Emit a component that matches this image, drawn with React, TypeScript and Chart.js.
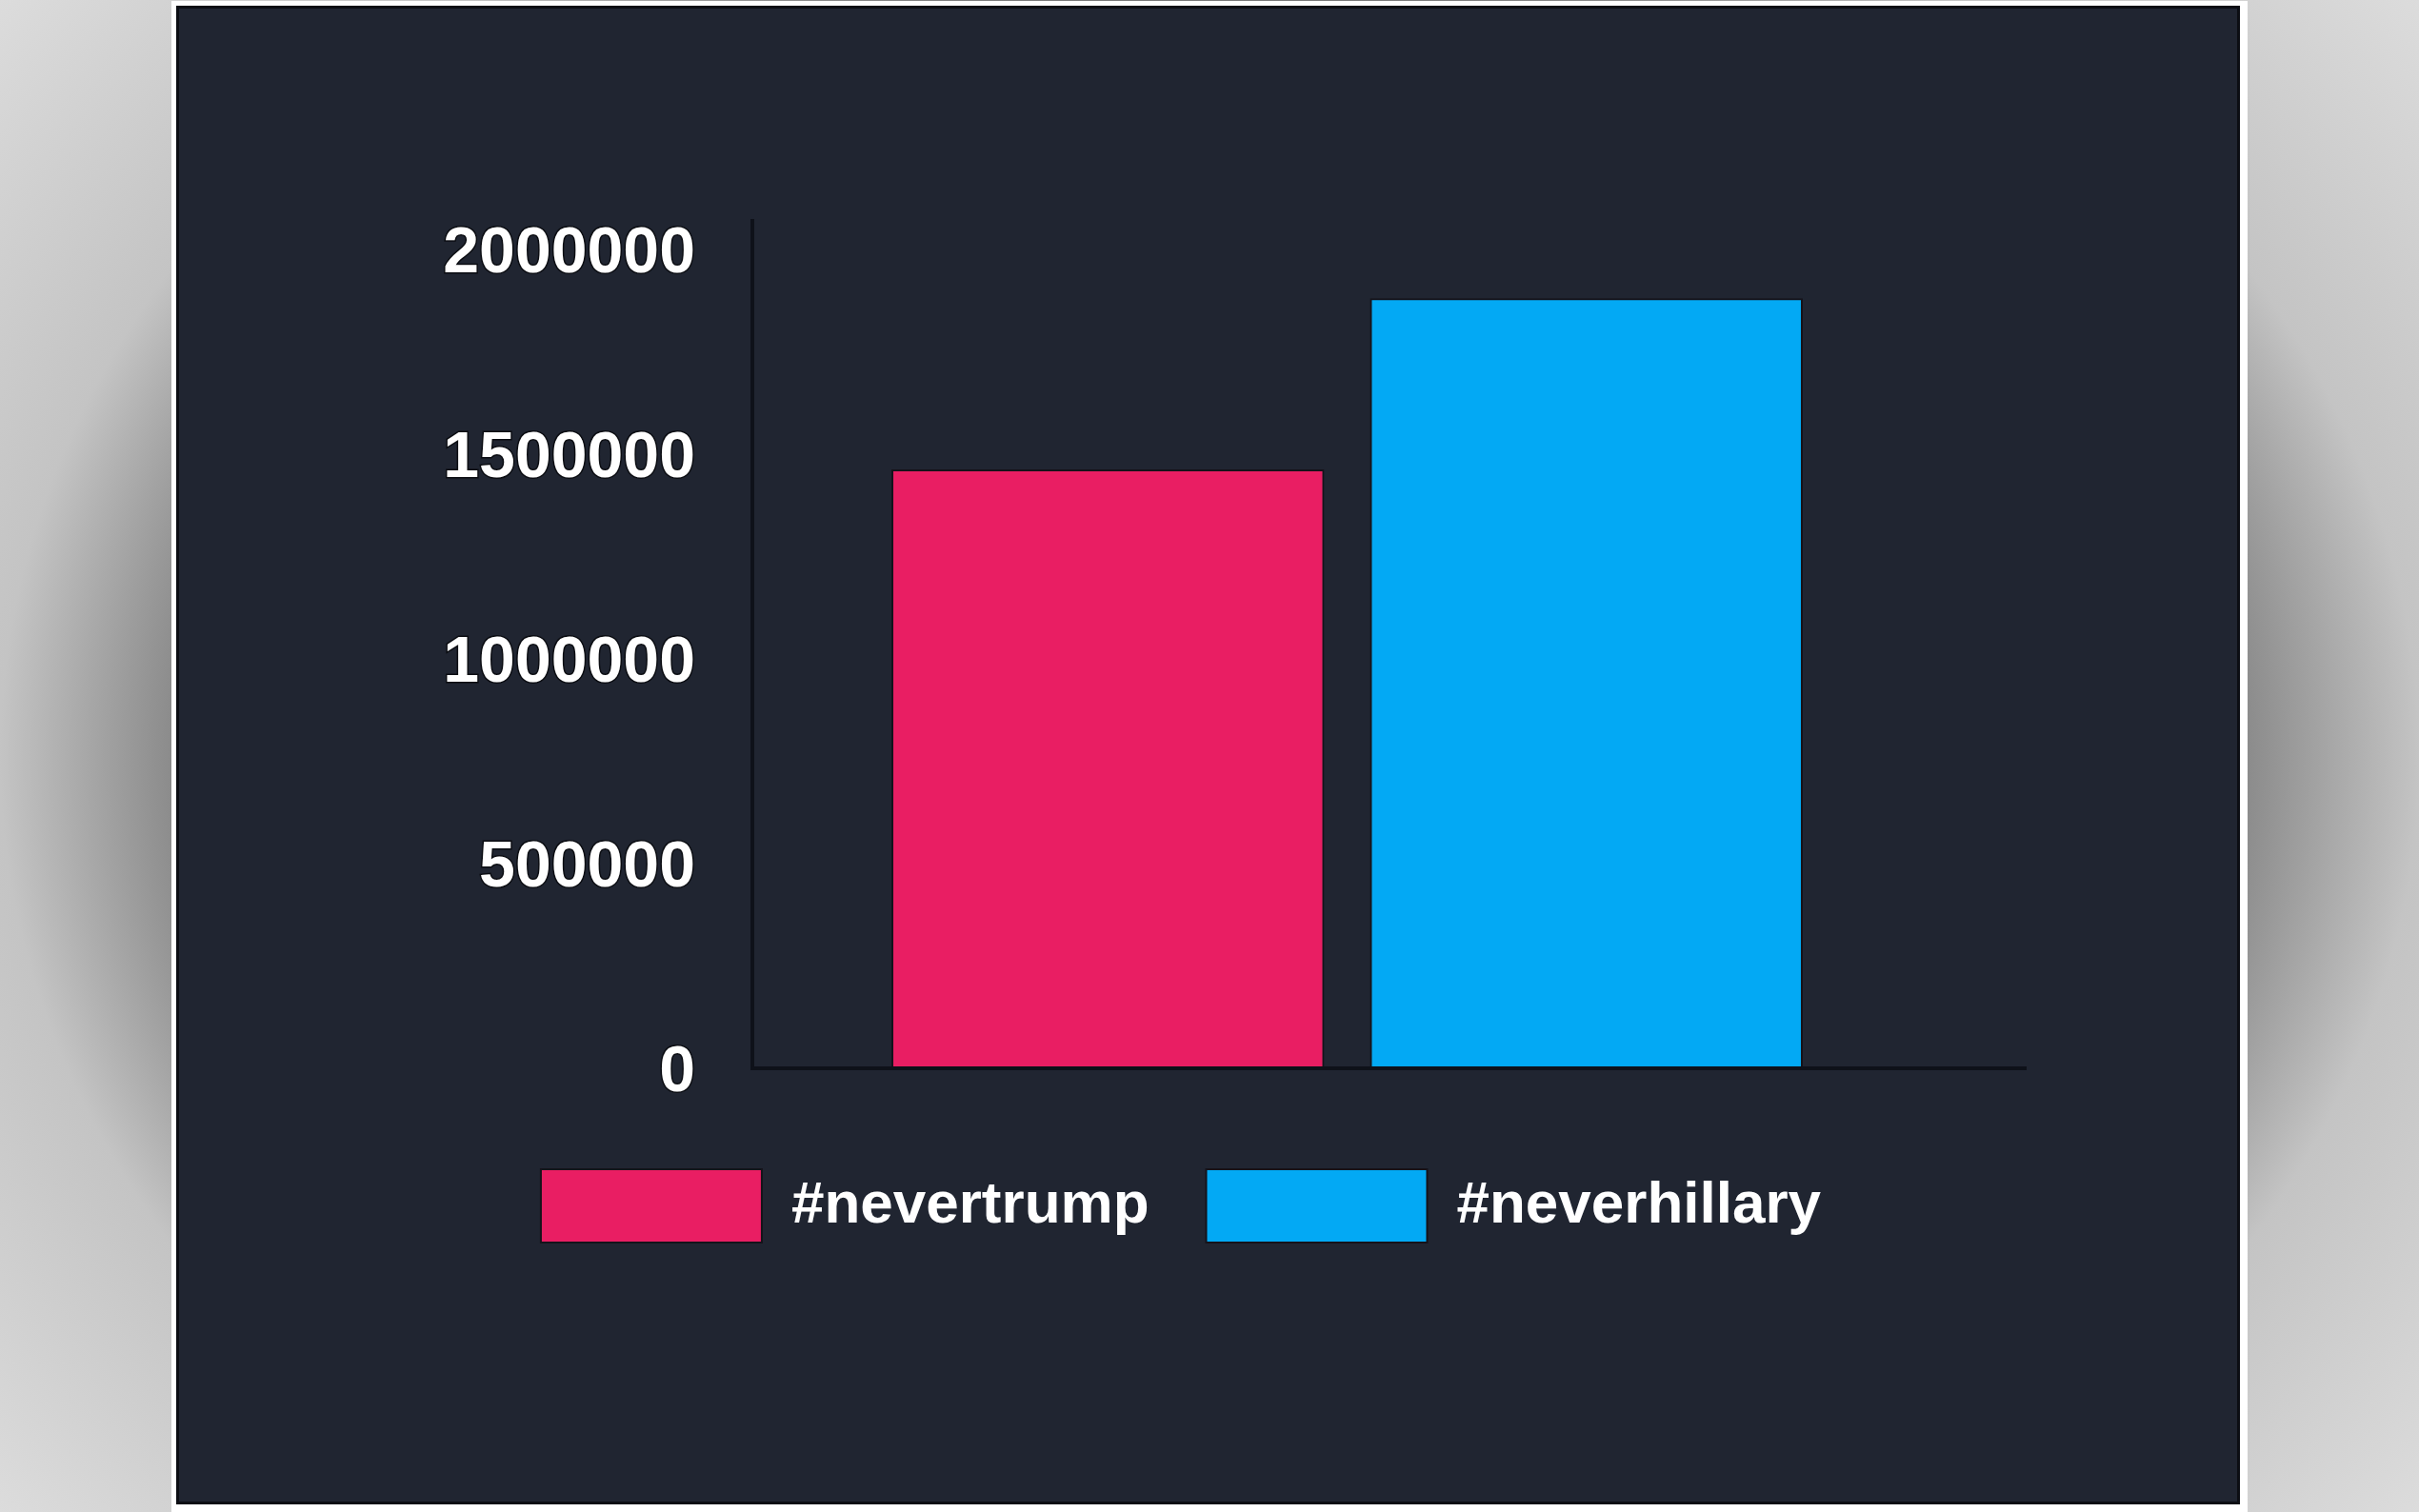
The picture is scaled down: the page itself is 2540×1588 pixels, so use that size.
import React, { useEffect, useRef } from 'react';
import { Chart, registerables } from 'chart.js';

Chart.register(...registerables);

// ---- data ----
const categories: string[] = [''];
const seriesNames: string[] = ['#nevertrump', '#neverhillary'];
const neverTrumpValues: number[] = [1463000];
const neverHillaryValues: number[] = [1881000];
const yTickValues: number[] = [0, 500000, 1000000, 1500000, 2000000];
const yAxisMax = 2070000;

// ---- styles ----
const PINK = '#e91e63';
const BLUE = '#03a9f4';
const AXIS_COLOR = '#0e1119';
const PANEL_BG = '#202531';
const FONT_FAMILY = "'Liberation Sans', Arial, Helvetica, sans-serif";
const AXIS_OVERHANG = 89;

const xAxisLinePlugin = {
  id: 'xAxisLine',
  afterDatasetsDraw(chart: any) {
    const { ctx, chartArea, scales } = chart;
    const y = scales.y.getPixelForValue(0);
    ctx.save();
    ctx.strokeStyle = AXIS_COLOR;
    ctx.lineWidth = 4;
    ctx.beginPath();
    ctx.moveTo(chartArea.left - 2, y);
    ctx.lineTo(chartArea.right + AXIS_OVERHANG, y);
    ctx.stroke();
    ctx.restore();
  },
};

export default function App() {
  const ref = useRef<HTMLCanvasElement>(null);

  useEffect(() => {
    if (!ref.current) return;
    const chart = new Chart(ref.current, {
      type: 'bar',
      data: {
        labels: categories,
        datasets: [
          {
            label: seriesNames[0],
            data: neverTrumpValues,
            backgroundColor: PINK,
            borderColor: '#15131a',
            borderWidth: 2,
          },
          {
            label: seriesNames[1],
            data: neverHillaryValues,
            backgroundColor: BLUE,
            borderColor: '#15131a',
            borderWidth: 2,
          },
        ],
      },
      options: {
        responsive: false,
        animation: false,
        categoryPercentage: 0.8046,
        barPercentage: 0.9045,
        layout: { padding: { left: 251, right: 301, top: 212, bottom: 245 } },
        plugins: {
          tooltip: { enabled: false },
          legend: {
            position: 'bottom',
            labels: {
              color: '#ffffff',
              boxWidth: 232,
              boxHeight: 77,
              padding: 60,
              font: { family: FONT_FAMILY, size: 62, weight: 'bold' },
            },
          },
        },
        scales: {
          x: {
            type: 'category',
            display: true,
            grid: { display: false, drawTicks: false, tickLength: 0 },
            border: { display: false },
            ticks: { display: false },
            afterFit: (s: any) => {
              s.height = 46;
            },
          },
          y: {
            type: 'linear',
            min: 0,
            max: yAxisMax,
            grid: { display: false, drawTicks: false, tickLength: 0 },
            border: { display: true, color: AXIS_COLOR, width: 4 },
            afterBuildTicks: (s: any) => {
              s.ticks = yTickValues.map((v) => ({ value: v }));
            },
            ticks: {
              padding: 60,
              labelOffset: 5,
              color: '#ffffff',
              textStrokeColor: '#0b0d12',
              textStrokeWidth: 3,
              font: { family: FONT_FAMILY, size: 68, weight: 'bold' },
              callback: (v: any) => String(v),
            },
            afterFit: (s: any) => {
              s.width = 349;
            },
          },
        },
      },
      plugins: [xAxisLinePlugin],
    });
    return () => chart.destroy();
  }, []);

  return (
    <div
      style={{
        position: 'absolute',
        left: 0,
        top: 0,
        width: 2540,
        height: 1588,
        overflow: 'hidden',
        background:
          'radial-gradient(ellipse 1270px 1000px at 50% 50%, #6e6e6e 0%, #7a7a7a 80%, #8c8c8c 86%, #c4c4c4 100%, #dedede 130%)',
      }}
    >
      <div
        style={{
          position: 'absolute',
          left: 180,
          top: 1,
          width: 2180,
          height: 1587,
          background: '#ffffff',
          boxSizing: 'border-box',
          padding: '5px 8px 8px 5px',
        }}
      >
        <div
          style={{
            width: '100%',
            height: '100%',
            boxSizing: 'border-box',
            border: '3px solid #0c0e14',
            background: PANEL_BG,
          }}
        />
      </div>
      <canvas
        ref={ref}
        width={2150}
        height={1540}
        style={{ position: 'absolute', left: 190, top: 20, width: 2150, height: 1540 }}
      />
    </div>
  );
}
